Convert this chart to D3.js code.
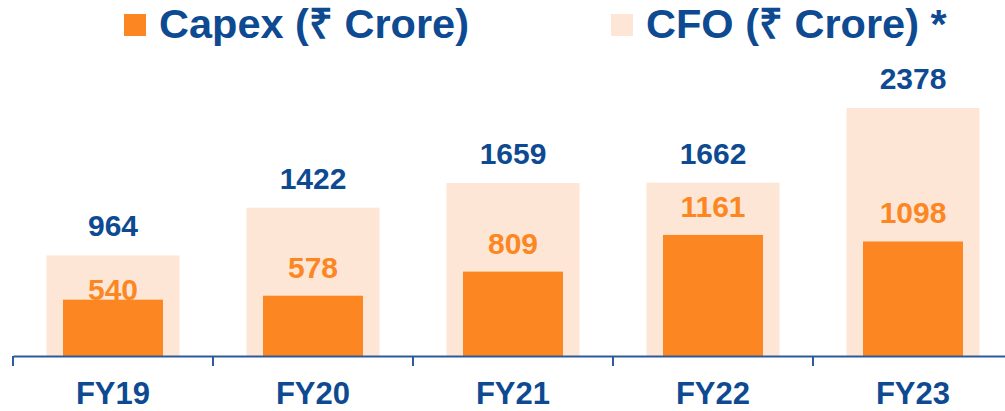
<!DOCTYPE html>
<html>
<head>
<meta charset="utf-8">
<script src="https://cdn.jsdelivr.net/npm/d3@7"></script>
<style>
  body { margin: 0; background: #fff; }
  text { font-family: "Liberation Sans", Arial, sans-serif; font-weight: bold; }
</style>
</head>
<body>
<div id="chart"></div>
<script>
const width = 1005;
const height = 411;

const years = ["FY19", "FY20", "FY21", "FY22", "FY23"];
const capex = [540, 578, 809, 1161, 1098];
const cfo = [964, 1422, 1659, 1662, 2378];

const blue = "#0d4a91";
const orange = "#fc8722";
const peach = "#fde6d5";

const svg = d3.select("#chart")
    .append("svg")
    .attr("width", width)
    .attr("height", height);

const x = d3.scaleBand()
    .domain(years)
    .range([13, 1013]);

const y = d3.scaleLinear()
    .domain([0, d3.max(cfo)])
    .range([356, 108]);

const data = years.map((d, i) => ({ year: d, capex: capex[i], cfo: cfo[i] }));

// CFO (wide, light) bars
svg.selectAll(".cfo")
    .data(data)
    .join("rect")
    .attr("class", "cfo")
    .attr("x", d => x(d.year) + x.bandwidth() / 2 - 66.5)
    .attr("y", d => y(d.cfo))
    .attr("width", 133)
    .attr("height", d => y(0) - y(d.cfo))
    .attr("fill", peach);

// Capex bars
svg.selectAll(".capex")
    .data(data)
    .join("rect")
    .attr("class", "capex")
    .attr("x", d => x(d.year) + x.bandwidth() / 2 - 50)
    .attr("y", d => y(d.capex))
    .attr("width", 100)
    .attr("height", d => y(0) - y(d.capex))
    .attr("fill", orange);

// axis line + ticks
const axis = svg.append("g")
    .attr("transform", "translate(0,356)")
    .call(d3.axisBottom(x).tickSize(0).tickFormat(""));
axis.select(".domain").attr("stroke", "#2c5a9a").attr("stroke-width", 2);
axis.selectAll(".bound")
    .data(years.concat([null]))
    .join("line")
    .attr("x1", (d, i) => 13 + i * x.step())
    .attr("x2", (d, i) => 13 + i * x.step())
    .attr("y1", 0)
    .attr("y2", 10)
    .attr("stroke", "#2c5a9a")
    .attr("stroke-width", 2);

// category labels
svg.selectAll(".cat")
    .data(years)
    .join("text")
    .attr("class", "cat")
    .attr("x", d => x(d) + x.bandwidth() / 2)
    .attr("y", 404)
    .attr("text-anchor", "middle")
    .attr("font-size", "31px")
    .attr("fill", blue)
    .text(d => d);

// CFO value labels
svg.selectAll(".cfoLabel")
    .data(data)
    .join("text")
    .attr("class", "cfoLabel")
    .attr("x", d => x(d.year) + x.bandwidth() / 2)
    .attr("y", d => y(d.cfo) - 19)
    .attr("text-anchor", "middle")
    .attr("font-size", "30px")
    .attr("fill", blue)
    .text(d => d.cfo);

// Capex value labels (pushed down onto the bar when too close to the CFO top)
svg.selectAll(".capexLabel")
    .data(data)
    .join("text")
    .attr("class", "capexLabel")
    .attr("x", d => x(d.year) + x.bandwidth() / 2)
    .attr("y", d => {
        let base = y(d.capex) - 18;
        if (base - 22 - y(d.cfo) < 8) base = y(d.capex);
        return base;
    })
    .attr("text-anchor", "middle")
    .attr("font-size", "30px")
    .attr("fill", orange)
    .text(d => d.capex);

// legend
const legend = [
    { label: "Capex (₹ Crore)", color: orange, x: 124 },
    { label: "CFO (₹ Crore) *", color: peach, x: 611 }
];
const lg = svg.selectAll(".legend")
    .data(legend)
    .join("g")
    .attr("class", "legend")
    .attr("transform", d => `translate(${d.x},14)`);
lg.append("rect")
    .attr("width", 22)
    .attr("height", 22)
    .attr("fill", d => d.color);
lg.append("text")
    .attr("x", 35)
    .attr("y", 24)
    .attr("font-size", "41.5px")
    .attr("fill", blue)
    .text(d => d.label);
</script>
</body>
</html>
